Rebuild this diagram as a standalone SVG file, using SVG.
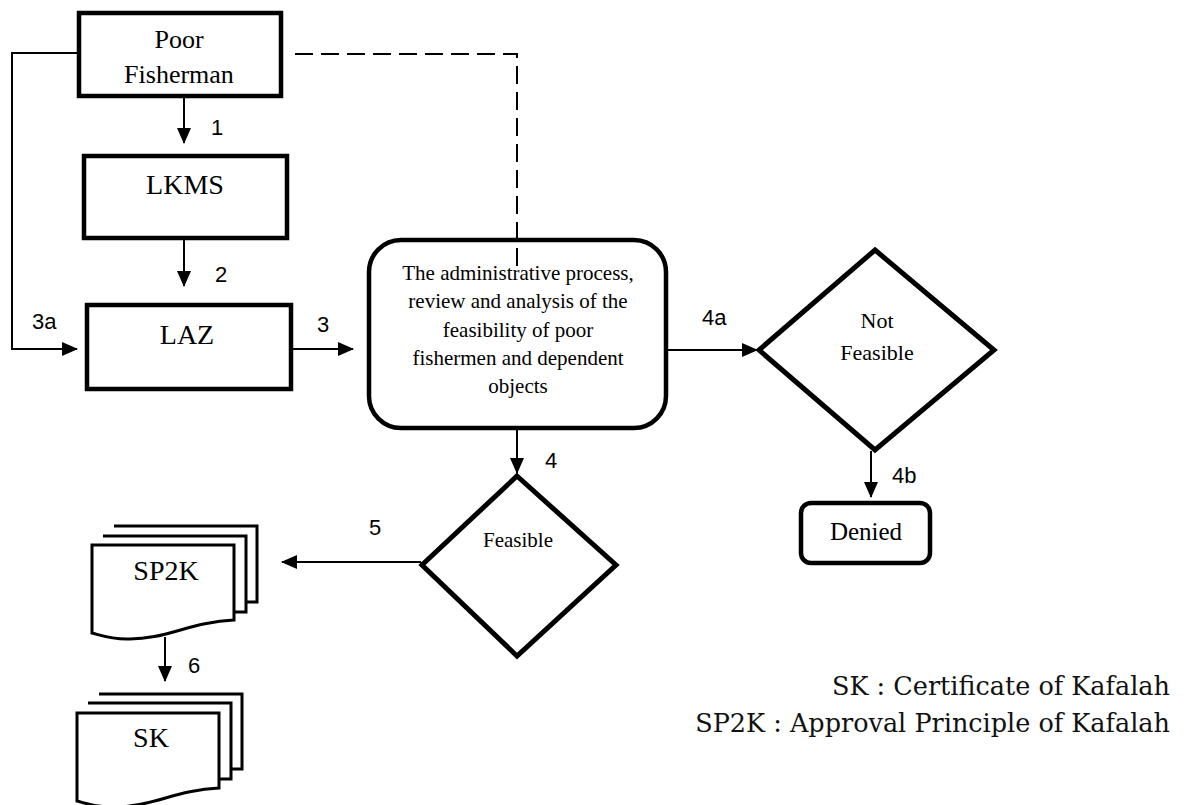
<svg xmlns="http://www.w3.org/2000/svg" width="1189" height="805" viewBox="0 0 1189 805">
  <style>
    .box { fill: #fff; stroke: #000; stroke-width: 4.5; }
    .doc { fill: #fff; stroke: #000; stroke-width: 3; }
    .dia { fill: #fff; stroke: #000; stroke-width: 5; }
    .conn { fill: none; stroke: #000; stroke-width: 2; }
    .dash { fill: none; stroke: #000; stroke-width: 2; stroke-dasharray: 18 8; stroke-dashoffset: 22; }
    .t { font-family: "Liberation Serif", "Times New Roman", serif; fill: #000; text-anchor: middle; }
    .num { font-family: "Liberation Sans", Arial, sans-serif; font-size: 22px; fill: #000; }
    .legend { font-family: "DejaVu Serif", "Liberation Serif", serif; font-size: 25.5px; fill: #111; text-anchor: end; }
  </style>
  <defs>
    <marker id="arrow" markerUnits="userSpaceOnUse" markerWidth="16" markerHeight="14" refX="15" refY="7" orient="auto">
      <path d="M0,0 L16,7 L0,14 Z" fill="#000"/>
    </marker>
  </defs>

  <rect width="1189" height="805" fill="#fff"/>

  <g id="poor-fisherman">
    <rect class="box" x="79" y="13" width="202" height="83"/>
    <text class="t" x="179" y="48" font-size="26">Poor</text>
    <text class="t" x="179" y="83" font-size="26">Fisherman</text>
  </g>

  <g id="lkms">
    <rect class="box" x="84" y="156" width="203" height="82"/>
    <text class="t" x="185" y="194" font-size="28">LKMS</text>
  </g>

  <g id="laz">
    <rect class="box" x="87" y="305" width="204" height="84"/>
    <text class="t" x="187" y="344" font-size="28">LAZ</text>
  </g>

  <g id="review-process">
    <rect class="box" x="369" y="240" width="297" height="188" rx="32" ry="32"/>
    <text class="t" x="518" y="280" font-size="21">The administrative process,</text>
    <text class="t" x="518" y="308" font-size="21">review and analysis of the</text>
    <text class="t" x="518" y="337" font-size="21">feasibility of poor</text>
    <text class="t" x="518" y="365" font-size="21">fishermen and dependent</text>
    <text class="t" x="518" y="393" font-size="21">objects</text>
  </g>

  <g id="not-feasible">
    <polygon class="dia" points="875,250 994,350 875,450 759,350"/>
    <text class="t" x="877" y="328" font-size="22">Not</text>
    <text class="t" x="877" y="360" font-size="22">Feasible</text>
  </g>

  <g id="denied">
    <rect class="box" x="801" y="503" width="129" height="60" rx="10" ry="10"/>
    <text class="t" x="866" y="540" font-size="25">Denied</text>
  </g>

  <g id="feasible">
    <polygon class="dia" points="517,476 616,565 517,656 422,565"/>
    <text class="t" x="518" y="547" font-size="21">Feasible</text>
  </g>

  <g id="sp2k">
    <path class="doc" d="M114,526 H257 V602 H246"/>
    <path class="doc" d="M103,536 H246 V612 H234"/>
    <path class="doc" d="M92,545 H234 V620 C190,622 165,640 127,639 C110,639 100,635 92,633 Z"/>
    <text class="t" x="166" y="580" font-size="28">SP2K</text>
  </g>

  <g id="sk">
    <path class="doc" d="M99,694 H242 V769 H231"/>
    <path class="doc" d="M88,703 H231 V779 H219"/>
    <path class="doc" d="M77,713 H219 V788 C175,790 150,808 112,807 C95,807 85,803 77,801 Z"/>
    <text class="t" x="151" y="747" font-size="28">SK</text>
  </g>

  <!-- connectors, drawn over the nodes -->
  <g id="connectors">
    <path class="conn" d="M78,53 H12 V349 H77" marker-end="url(#arrow)"/>
    <path class="dash" d="M291,54 H517 V266"/>
    <path class="conn" d="M184,97 V143" marker-end="url(#arrow)"/>
    <path class="conn" d="M184,240 V286" marker-end="url(#arrow)"/>
    <path class="conn" d="M292,349 H353" marker-end="url(#arrow)"/>
    <path class="conn" d="M667,350 H757" marker-end="url(#arrow)"/>
    <path class="conn" d="M871,451 V497" marker-end="url(#arrow)"/>
    <path class="conn" d="M517,430 V473" marker-end="url(#arrow)"/>
    <path class="conn" d="M421,562 H282" marker-end="url(#arrow)"/>
    <path class="conn" d="M165,637 V681" marker-end="url(#arrow)"/>
    <text class="num" x="211" y="135">1</text>
    <text class="num" x="215" y="282">2</text>
    <text class="num" x="32" y="329">3a</text>
    <text class="num" x="317" y="332">3</text>
    <text class="num" x="702" y="325">4a</text>
    <text class="num" x="545" y="468">4</text>
    <text class="num" x="892" y="483">4b</text>
    <text class="num" x="369" y="535">5</text>
    <text class="num" x="188" y="673">6</text>
  </g>

  <g id="legend">
    <text class="legend" x="1170" y="695">SK : Certificate of Kafalah</text>
    <text class="legend" x="1170" y="732">SP2K : Approval Principle of Kafalah</text>
  </g>
</svg>
